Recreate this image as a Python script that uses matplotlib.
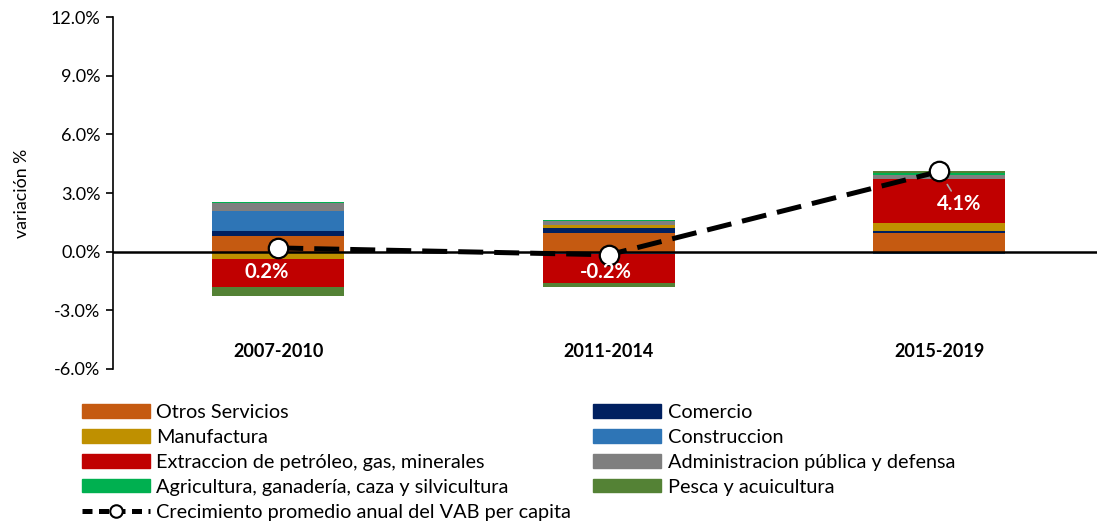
import numpy as np
import matplotlib
matplotlib.use('Agg')
import matplotlib.pyplot as plt
from matplotlib.patches import Patch
from matplotlib.lines import Line2D

plt.rcParams['font.family'] = ['Lato', 'DejaVu Sans']

# --- data (percent) ---
periods = ['2007-2010', '2011-2014', '2015-2019']
sectors = ['Otros Servicios', 'Comercio', 'Manufactura', 'Construccion',
           'Extraccion de petróleo, gas, minerales',
           'Administracion pública y defensa',
           'Agricultura, ganadería, caza y silvicultura',
           'Pesca y acuicultura']
otros = [0.82, 0.95, 0.94]
comercio = [0.26, 0.26, 0.10]
manufactura = [-0.37, 0.14, 0.41]
construccion = [1.00, -0.12, -0.10]
extraccion = [-1.45, -1.47, 2.27]
administracion = [0.41, 0.24, 0.20]
agricultura = [0.05, 0.05, 0.10]
pesca = [-0.44, -0.20, 0.12]
vab_pc = [0.19, -0.16, 4.10]
line_label = 'Crecimiento promedio anual del VAB per capita'

colors = ['#C55A11', '#002060', '#BF9000', '#2E75B6', '#C00000',
          '#7F7F7F', '#00B050', '#548235']

series = [otros, comercio, manufactura, construccion, extraccion,
          administracion, agricultura, pesca]

fig = plt.figure(figsize=(10.97, 5.22), dpi=100)
W, H = 1097, 522
ax = fig.add_axes([113 / W, 1 - 369 / H, (W - 113) / W, (369 - 17) / H])

x = np.arange(len(periods))
pos_base = np.zeros(len(periods))
neg_base = np.zeros(len(periods))
for vals, col in zip(series, colors):
    v = np.array(vals)
    bottom = np.where(v >= 0, pos_base, neg_base)
    ax.bar(x, v, bottom=bottom, width=0.4, color=col, linewidth=0, zorder=2)
    pos_base += np.where(v >= 0, v, 0)
    neg_base += np.where(v < 0, v, 0)

ax.axhline(0, color='black', lw=1.8, zorder=3)

ax.plot(x, vab_pc, color='black', lw=3.6, dashes=(5, 2.2), marker='o',
        ms=14, mfc='white', mec='black', mew=1.6, zorder=5)

# data labels
lbl_off = [(-0.035, -1.05), (-0.01, -1.03)]
for i in range(2):
    ax.text(x[i] + lbl_off[i][0], lbl_off[i][1], f'{vab_pc[i]:.1f}%',
            color='white', fontsize=14.5, fontweight='bold',
            ha='center', va='center', zorder=6)
ax.annotate(f'{vab_pc[2]:.1f}%', xy=(x[2], vab_pc[2]), xytext=(x[2] + 0.06, 2.45),
            color='white', fontsize=14.5, fontweight='bold',
            ha='center', va='center', zorder=6,
            arrowprops=dict(arrowstyle='-', color='#A6A6A6', lw=1.2,
                            shrinkA=0, shrinkB=11))

ax.set_ylim(-6, 12)
ax.set_yticks(np.arange(-6, 12.1, 3))
ax.set_yticklabels([f'{t:.1f}%' for t in np.arange(-6, 12.1, 3)])
ax.set_xlim(-0.5, -0.5 + (W - 113) / 330.5)
ax.set_xticks([])
for s in ['top', 'right', 'bottom']:
    ax.spines[s].set_visible(False)
ax.spines['left'].set_linewidth(1.2)
ax.tick_params(axis='y', direction='out', length=5, width=1.2, labelsize=13,
               colors='black', pad=4)
ax.set_ylabel('variación %', fontsize=12.8, labelpad=15)

for i, p in enumerate(periods):
    ax.text(x[i], -5.1, p, ha='center', va='center', fontsize=13,
            fontweight='bold')

# legend
patches = [Patch(color=c, label=l) for c, l in zip(colors, sectors)]
line_h = Line2D([], [], color='black', lw=3.6, dashes=(2.0, 1.3), marker='o',
                ms=9, mfc='white', mec='black', mew=1.5, label=line_label)
order = [patches[0], patches[2], patches[4], patches[6], line_h,
         patches[1], patches[3], patches[5], patches[7]]
fig.legend(handles=order, labels=[h.get_label() for h in order], ncol=2,
           loc='upper left', bbox_to_anchor=(82 / W, 1 - 404 / H),
           frameon=False, fontsize=14.3, handlelength=3.4, handleheight=0.65,
           handletextpad=0.35, labelspacing=0.4, columnspacing=1.1,
           borderpad=0, borderaxespad=0)

fig.savefig('out.png', dpi=100)
